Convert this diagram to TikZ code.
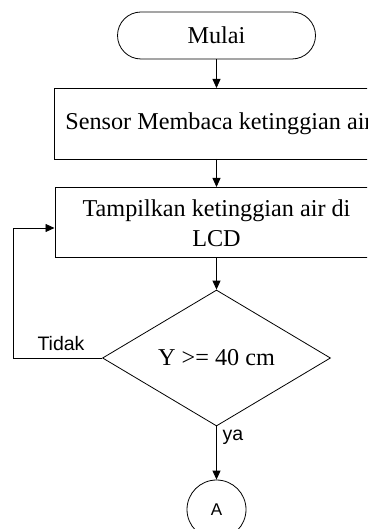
\documentclass[tikz,border=0pt]{standalone}
\usepackage{fontspec}
\setmainfont{Liberation Serif}
\newfontfamily\labelfont{Liberation Sans}
\usetikzlibrary{arrows.meta,shapes.geometric}
\begin{document}
\begin{tikzpicture}[x=1pt,y=-1pt,
  line width=0.8pt,
  arr/.style={-{Triangle[length=9pt,width=8pt]}},
  boxstyle/.style={draw,rectangle,inner sep=0pt},
  serif/.style={font=\fontsize{24.2}{30}\selectfont},
  lbl/.style={font=\labelfont\fontsize{19.5}{22}\selectfont,inner sep=0pt}]
\clip (0,0) rectangle (367,529);
\fill[white] (0,0) rectangle (367,529);
% Start
\node[boxstyle,rounded corners=23.5pt,minimum width=198pt,minimum height=47pt,serif] (mulai) at (216.5,35.5) {Mulai};
% Sensor box (extends past right edge)
\node[boxstyle,anchor=north west,minimum width=340pt,minimum height=71pt] (sensor) at (53.5,88) {};
\node[anchor=west,inner sep=0pt,serif] (sensortxt) at (65,124) {Sensor Membaca ketinggian air};
% Display box
\node[boxstyle,anchor=north west,minimum width=324pt,minimum height=70pt] (lcd) at (54.5,187) {};
\node[inner sep=0pt,align=center,serif] (lcdtxt) at (216.5,223) {Tampilkan ketinggian air di\\LCD};
% Decision
\node[diamond,draw,inner sep=0pt,minimum width=228pt,minimum height=136pt,serif] (dec) at (216.5,358) {Y >= 40 cm};
% Connector
\node[circle,draw,inner sep=0pt,minimum size=59pt,
  font=\labelfont\fontsize{17}{20}\selectfont] (conA) at (216.5,509.5) {A};
% Arrows
\draw[arr] (mulai.south) -- (216.5,88);
\draw[arr] (216.5,159) -- (216.5,187);
\draw[arr] (216.5,257) -- (dec.north);
\coordinate (fbl) at (13,358);
\coordinate (fbt) at (13,228);
\draw[arr] (dec.west) -- (fbl) -- (fbt) -- (54.5,228);
\draw[arr] (dec.south) -- (conA.north);
% Labels
\node[lbl] (tidak) at (61,344) {Tidak};
\node[lbl] (ya) at (233,437) {ya};
\end{tikzpicture}
\end{document}
